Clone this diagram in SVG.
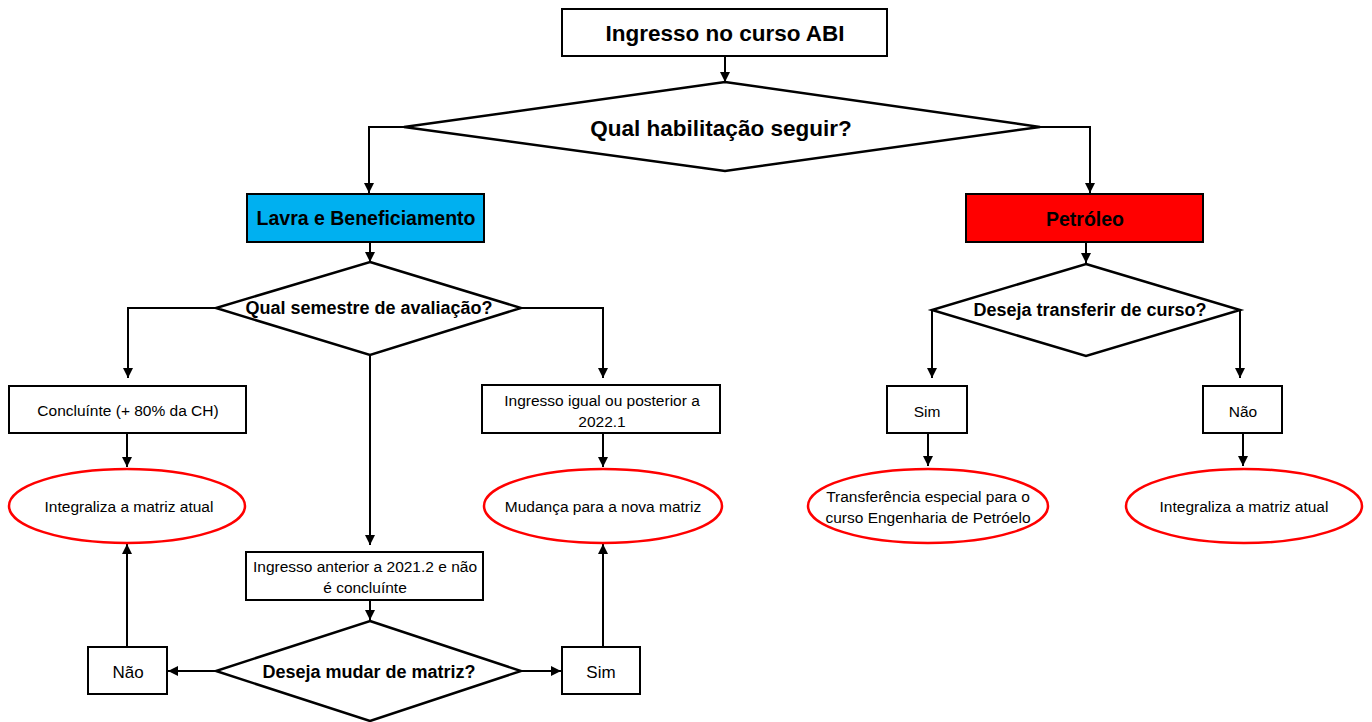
<svg xmlns="http://www.w3.org/2000/svg" width="1372" height="722" viewBox="0 0 1372 722">
<style>
.box{fill:#fff;stroke:#000;stroke-width:2}
.dia{fill:#fff;stroke:#000;stroke-width:2.5}
.ell{fill:#fff;stroke:#f00;stroke-width:2.5}
.t{font-family:"Liberation Sans",Arial,sans-serif;fill:#000;text-anchor:middle;dominant-baseline:central}
.b{font-weight:bold}
.s{font-size:15.5px}
.c{fill:none;stroke:#000;stroke-width:2}
</style>
<defs>
<marker id="ah" viewBox="0 0 10 10" refX="10" refY="5" markerWidth="5" markerHeight="5" orient="auto" markerUnits="strokeWidth">
<path d="M0,0 L10,5 L0,10 z" fill="#000"/>
</marker>
</defs>
<rect width="1372" height="722" fill="#fff"/>
<g id="connectors">
<path class="c" d="M725,56 V82" marker-end="url(#ah)"/>
<path class="c" d="M404,127 H369 V193" marker-end="url(#ah)"/>
<path class="c" d="M1040,127 H1090 V193" marker-end="url(#ah)"/>
<path class="c" d="M370,242 V262" marker-end="url(#ah)"/>
<path class="c" d="M216,308 H128 V378" marker-end="url(#ah)"/>
<path class="c" d="M521,308 H603 V378" marker-end="url(#ah)"/>
<path class="c" d="M370,355 V545" marker-end="url(#ah)"/>
<path class="c" d="M127,433 V467" marker-end="url(#ah)"/>
<path class="c" d="M603,433 V467" marker-end="url(#ah)"/>
<path class="c" d="M370,600 V620" marker-end="url(#ah)"/>
<path class="c" d="M216,671 H168" marker-end="url(#ah)"/>
<path class="c" d="M521,671 H561" marker-end="url(#ah)"/>
<path class="c" d="M127,647 V544" marker-end="url(#ah)"/>
<path class="c" d="M603,647 V544" marker-end="url(#ah)"/>
<path class="c" d="M1086,242 V263" marker-end="url(#ah)"/>
<path class="c" d="M932,310 V378" marker-end="url(#ah)"/>
<path class="c" d="M1240,310 V378" marker-end="url(#ah)"/>
<path class="c" d="M928,433 V466" marker-end="url(#ah)"/>
<path class="c" d="M1243,433 V466" marker-end="url(#ah)"/>
</g>
<g id="n-ingresso">
<rect class="box" x="562" y="9" width="325" height="47"/>
<text class="t b" x="725" y="33" font-size="22.5">Ingresso no curso ABI</text>
</g>
<g id="n-habilitacao">
<polygon class="dia" points="725,82 1040,127 725,171 404,127"/>
<text class="t b" x="721" y="128" font-size="22.5">Qual habilitação seguir?</text>
</g>
<g id="n-lavra">
<rect class="box" x="247" y="194" width="237" height="48" style="fill:#00B0F0"/>
<text class="t b" x="366" y="218" font-size="19.5">Lavra e Beneficiamento</text>
</g>
<g id="n-semestre">
<polygon class="dia" points="370,262 521,308 370,355 216,308"/>
<text class="t b" x="369" y="308" font-size="18">Qual semestre de avaliação?</text>
</g>
<g id="n-concluinte">
<rect class="box" x="9" y="386" width="237" height="47"/>
<text class="t s" x="128" y="410">Concluínte (+ 80% da CH)</text>
</g>
<g id="n-int1">
<ellipse class="ell" cx="127" cy="506" rx="118" ry="37"/>
<text class="t s" x="129" y="506">Integraliza a matriz atual</text>
</g>
<g id="n-igual">
<rect class="box" x="482" y="385" width="238" height="48"/>
<text class="t s" x="602" y="400">Ingresso igual ou posterior a</text>
<text class="t s" x="602" y="421">2022.1</text>
</g>
<g id="n-mudanca">
<ellipse class="ell" cx="603" cy="506" rx="119" ry="37"/>
<text class="t s" x="603" y="506">Mudança para a nova matriz</text>
</g>
<g id="n-anterior">
<rect class="box" x="246" y="552" width="237" height="48"/>
<text class="t s" x="365" y="566">Ingresso anterior a 2021.2 e não</text>
<text class="t s" x="365" y="587">é concluínte</text>
</g>
<g id="n-mudar">
<polygon class="dia" points="370,621 521,671 370,721 216,671"/>
<text class="t b" x="369" y="672" font-size="18">Deseja mudar de matriz?</text>
</g>
<g id="n-nao1">
<rect class="box" x="88" y="647" width="79" height="47"/>
<text class="t" x="128" y="672" font-size="17">Não</text>
</g>
<g id="n-sim1">
<rect class="box" x="562" y="647" width="78" height="47"/>
<text class="t" x="601" y="672" font-size="17">Sim</text>
</g>
<g id="n-petroleo">
<rect class="box" x="966" y="194" width="237" height="48" style="fill:#FF0000"/>
<text class="t b" x="1085" y="219" font-size="19.5">Petróleo</text>
</g>
<g id="n-transferir">
<polygon class="dia" points="1086,264 1240,310 1086,356 932,310"/>
<text class="t b" x="1090" y="310" font-size="18">Deseja transferir de curso?</text>
</g>
<g id="n-sim2">
<rect class="box" x="887" y="386" width="80" height="47"/>
<text class="t s" x="927" y="411">Sim</text>
</g>
<g id="n-transf">
<ellipse class="ell" cx="928" cy="506" rx="120" ry="37"/>
<text class="t s" x="928" y="496">Transferência especial para o</text>
<text class="t s" x="928" y="517">curso Engenharia de Petróelo</text>
</g>
<g id="n-nao2">
<rect class="box" x="1203" y="386" width="79" height="47"/>
<text class="t s" x="1243" y="411">Não</text>
</g>
<g id="n-int2">
<ellipse class="ell" cx="1244" cy="506" rx="118" ry="37"/>
<text class="t s" x="1244" y="506">Integraliza a matriz atual</text>
</g>
</svg>
